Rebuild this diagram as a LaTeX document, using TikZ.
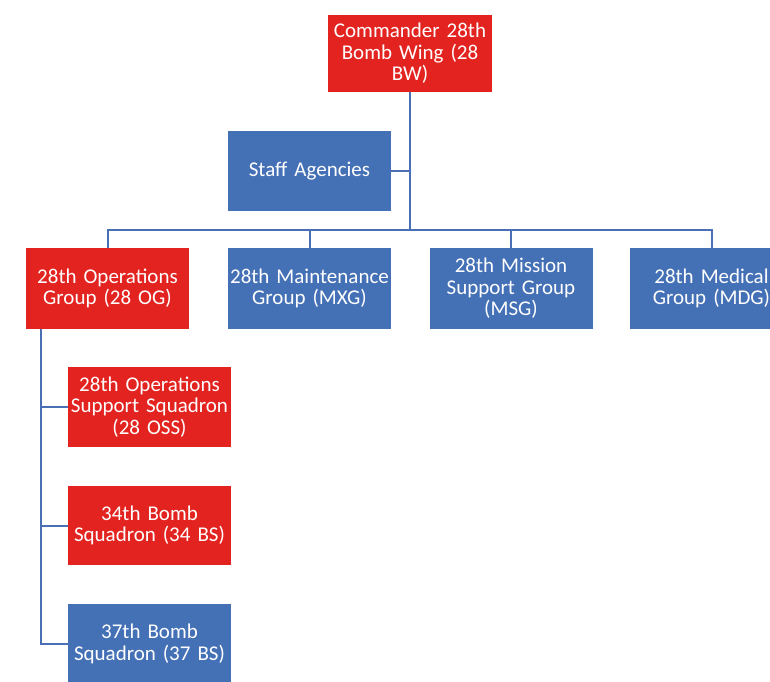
\documentclass[tikz,border=0pt]{standalone}
\usepackage{fontspec}
\setmainfont{Carlito}[WordSpace=0.6]
\definecolor{bred}{HTML}{E3231F}
\definecolor{bblue}{HTML}{4470B6}
\definecolor{lblue}{HTML}{4A6FB5}
\begin{document}
\begin{tikzpicture}[x=1pt,y=-1pt,
  box/.style={draw=none,minimum width=163pt,minimum height=80pt,inner sep=0pt,
    text width=163pt,align=center,text=white,
    font=\fontsize{21}{21.5}\selectfont},
  redbox/.style={box,fill=bred},
  bluebox/.style={box,fill=bblue},
  conn/.style={draw=lblue,line width=2pt}]
\useasboundingbox (0,0) rectangle (770,681);
\node[redbox,minimum width=164pt,minimum height=77pt] (cmd) at (410,53.5) {Commander 28th\\Bomb Wing (28\\BW)};
\node[bluebox] (staff) at (309.5,171) {Staff Agencies};
\node[redbox,minimum height=81pt] (og) at (107.5,288.5) {28th Operations\\Group (28 OG)};
\node[bluebox,minimum height=81pt] (mxg) at (309.5,288.5) {28th Maintenance\\Group (MXG)};
\node[bluebox,minimum height=81pt] (msg) at (511,288.5) {28th Mission\\Support Group\\(MSG)};
\node[bluebox,minimum height=81pt] (mdg) at (711.5,288.5) {28th Medical\\Group (MDG)};
\node[redbox] (oss) at (149.5,407) {28th Operations\\Support Squadron\\(28 OSS)};
\node[redbox,minimum height=79pt] (bs34) at (149.5,525.5) {34th Bomb\\Squadron (34 BS)};
\node[bluebox] (bs37) at (149.5,644) {37th Bomb\\Squadron (37 BS)};
\coordinate (bus) at (410,230);
\coordinate (spine) at (41,329);
\draw[conn] (cmd.south) -- (bus);
\draw[conn] (staff.east) -- (staff.east -| cmd.south);
\draw[conn] (og.north) |- (bus) -| (mdg.north);
\draw[conn] (mxg.north) -- (mxg.north |- bus);
\draw[conn] (msg.north) -- (msg.north |- bus);
\draw[conn] (og.south -| spine) |- (bs37.west);
\draw[conn] (oss.west) -- (oss.west -| spine);
\draw[conn] (bs34.west) -- (bs34.west -| spine);
\end{tikzpicture}
\end{document}
